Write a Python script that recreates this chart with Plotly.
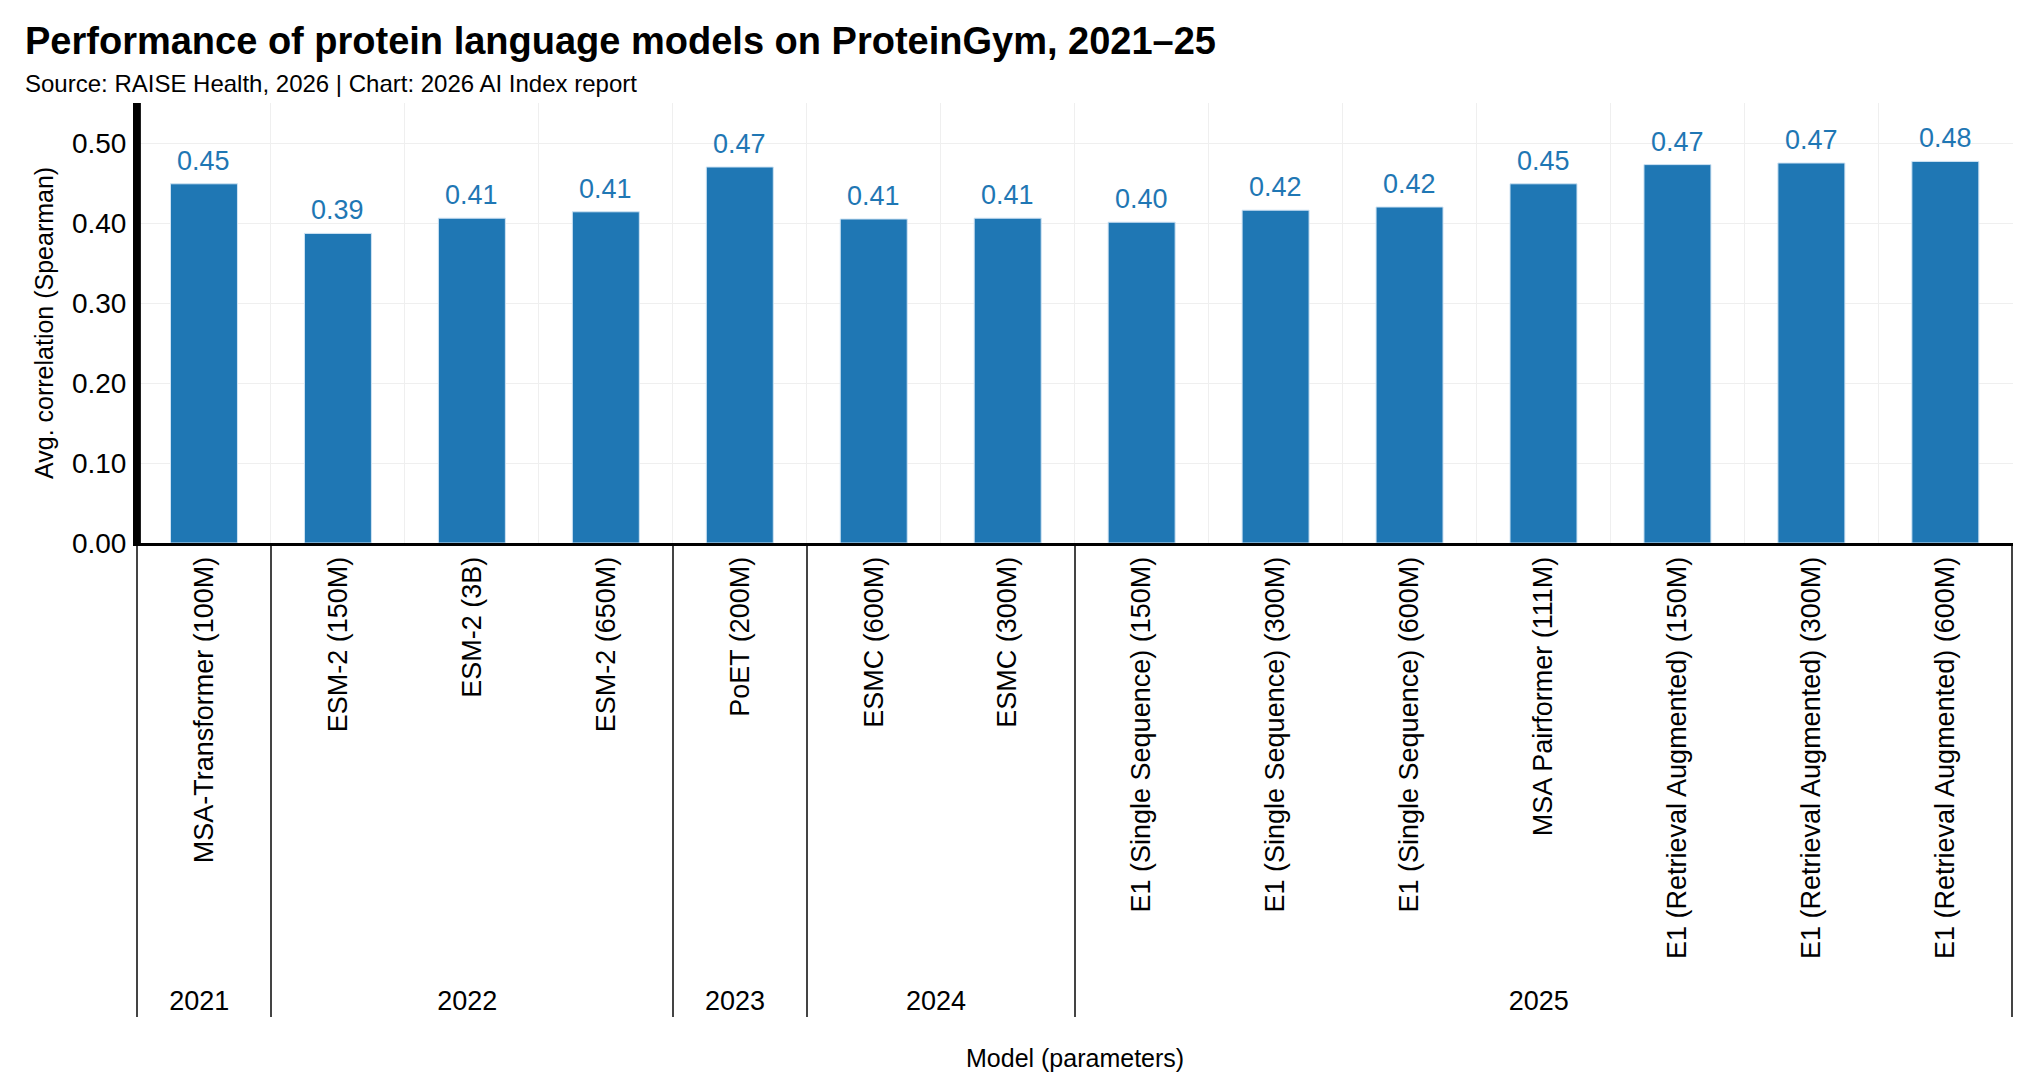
import plotly.graph_objects as go

years = ["2021", "2022", "2022", "2022", "2023", "2024", "2024",
         "2025", "2025", "2025", "2025", "2025", "2025", "2025"]
models = [
    "MSA-Transformer (100M)", "ESM-2 (150M)", "ESM-2 (3B)", "ESM-2 (650M)",
    "PoET (200M)", "ESMC (600M)", "ESMC (300M)",
    "E1 (Single Sequence) (150M)", "E1 (Single Sequence) (300M)",
    "E1 (Single Sequence) (600M)", "MSA Pairformer (111M)",
    "E1 (Retrieval Augmented) (150M)", "E1 (Retrieval Augmented) (300M)",
    "E1 (Retrieval Augmented) (600M)",
]
spearman = [0.449, 0.387, 0.406, 0.414, 0.470, 0.405, 0.406,
            0.401, 0.416, 0.420, 0.449, 0.473, 0.475, 0.477]

BLUE = "#1f77b4"
FONT = "Liberation Sans"

# page body has an 8px margin; figure is sized so the plot lands where the reference has it
W, H = 2015, 1066
ML, MR, MT, MB = 129, 10, 95, 531
PW = W - ML - MR
PH = H - MT - MB

fig = go.Figure(go.Bar(
    x=[years, models],
    y=spearman,
    marker=dict(color=BLUE, line=dict(color="#cfe3f3", width=1)),
    hoverinfo="x+y",
))

# value labels above the bars, positioned in data coordinates
value_labels = [
    dict(x=i, y=v, xref="x", yref="y", text=f"{v:.2f}", showarrow=False,
         yanchor="bottom", yshift=6, font=dict(color=BLUE, size=27, family=FONT))
    for i, v in enumerate(spearman)
]

fig.update_layout(
    width=W, height=H,
    margin=dict(l=ML, r=MR, t=MT, b=MB),
    plot_bgcolor="white", paper_bgcolor="white",
    font=dict(family=FONT, size=25, color="black"),
    bargap=0.5,
    showlegend=False,
    shapes=[
        # vertical axis line drawn explicitly along the left edge of the plot area
        dict(type="line", xref="paper", yref="paper", x0=0.001, x1=0.001, y0=0, y1=1,
             line=dict(color="black", width=4), layer="above"),
    ],
    annotations=value_labels + [
        dict(text="<b>Performance of protein language models on ProteinGym, 2021–25</b>",
             xref="paper", yref="paper", x=(15 - ML) / PW, y=1 + 62 / PH, xanchor="left",
             yanchor="middle", showarrow=False, font=dict(size=38, family=FONT)),
        dict(text="Source: RAISE Health, 2026 | Chart: 2026 AI Index report",
             xref="paper", yref="paper", x=(15 - ML) / PW, y=1 + 19 / PH, xanchor="left",
             yanchor="middle", showarrow=False, font=dict(size=24, family=FONT)),
        dict(text="Model (parameters)", xref="paper", yref="paper", x=0.5,
             y=-515 / PH, xanchor="center", yanchor="middle",
             showarrow=False, font=dict(size=25, family=FONT)),
        dict(text="Avg. correlation (Spearman)", xref="paper", yref="paper",
             x=(36 - ML) / PW, y=0.5, xanchor="center", yanchor="middle",
             textangle=-90, showarrow=False, font=dict(size=25, family=FONT)),
    ],
)

fig.update_xaxes(
    type="multicategory",
    range=[-0.5, len(models) - 0.495],
    tickangle=-90,
    showline=True, linecolor="black", linewidth=3,
    showgrid=True, gridcolor="#efefef", gridwidth=1,
    showdividers=True, dividercolor="#444444", dividerwidth=1.5,
    tickfont=dict(size=27, family=FONT),
    automargin=False,
)
fig.update_yaxes(
    range=[0, 0.55], dtick=0.1, tickformat=".2f",
    showline=True, linecolor="black", linewidth=4,
    showgrid=True, gridcolor="#efefef", gridwidth=1,
    ticks="outside", ticklen=1, tickcolor="rgba(255,255,255,0)",
    tickfont=dict(size=28, family=FONT),
    zeroline=False,
    automargin=False,
)

fig.write_html("out.html")
